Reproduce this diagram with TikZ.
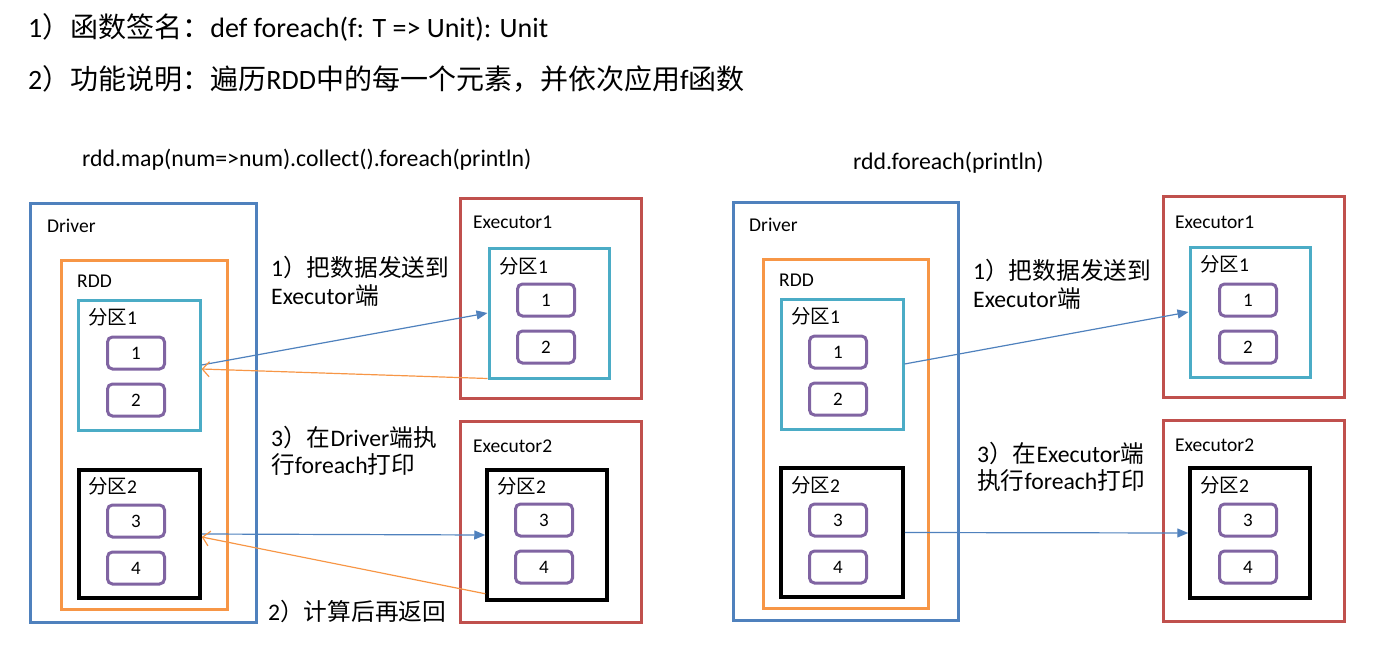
\documentclass[tikz,border=0pt]{standalone}
\usepackage{fontspec}
\setmainfont{Carlito}
\newfontfamily\cjk{Noto Sans CJK SC}
\usetikzlibrary{fit,arrows.meta}
\definecolor{cblue}{RGB}{79,129,189}
\definecolor{corange}{RGB}{247,150,70}
\definecolor{ccyan}{RGB}{75,172,198}
\definecolor{cred}{RGB}{192,80,77}
\definecolor{cpurple}{RGB}{128,100,162}
\tikzset{
  box/.style={draw,inner sep=0pt,line width=3pt},
  drvbox/.style={box,draw=cblue},
  rddbox/.style={box,draw=corange},
  pabox/.style={box,draw=ccyan},
  pbbox/.style={box,draw=black,line width=3.5pt},
  exbox/.style={box,draw=cred},
  elem/.style={draw=cpurple,line width=3pt,rounded corners=5pt,minimum width=57pt,minimum height=32pt,inner sep=0pt,font=\fontsize{19}{21}\selectfont},
  lbl/.style={anchor=west,inner sep=0pt,font=\fontsize{19.5}{21}\selectfont},
  note/.style={anchor=west,inner sep=0pt,font=\fontsize{23.7}{26}\selectfont},
  title/.style={anchor=west,inner sep=0pt,font=\fontsize{28}{30}\selectfont},
  code/.style={anchor=west,inner sep=0pt,font=\fontsize{23.8}{26}\selectfont},
  barrow/.style={draw=cblue,line width=1.2pt,-{Triangle[length=11pt,width=9pt]}},
  oarrow/.style={draw=corange,line width=1.2pt,-{Straight Barb[length=7pt,width=15pt]}},
}
\begin{document}
\begin{tikzpicture}[x=1pt,y=-1pt]
\useasboundingbox (0,0) rectangle (1374,664);
% titles
\node[title] (t1) at (28,27) {1{\cjk）函数签名：}def foreach(f: T => Unit): Unit};
\node[title] (t2) at (28,79) {2{\cjk）功能说明：遍历}RDD{\cjk 中的每一个元素，并依次应用}f{\cjk 函数}};
% ---------- left ----------
\node[code] (c1) at (82,160) {rdd.map(num=>num).collect().foreach(println)};
\node[drvbox,fit={(30,203)(256,622)}] (ld) {};
\node[lbl] at (47,226) {Driver};
\node[rddbox,fit={(61,260)(227,609)}] (lr) {};
\node[lbl] at (77,281) {RDD};
\node[pabox,fit={(78,300)(200,430)}] (lp1) {};
\node[lbl] at (88,317) {{\cjk 分区}1};
\node[elem] (l1) at (136,353) {1};
\node[elem] (l2) at (136,400) {2};
\node[pbbox,fit={(79,470)(200,598)}] (lp2) {};
\node[lbl] at (88,486) {{\cjk 分区}2};
\node[elem] (l3) at (136,521) {3};
\node[elem] (l4) at (136,568) {4};
\node[exbox,fit={(460,198)(641,398)}] (le1) {};
\node[lbl] at (473,222) {Executor1};
\node[pabox,fit={(489,248)(609,378)}] (lep1) {};
\node[lbl] at (499,266) {{\cjk 分区}1};
\node[elem] (le11) at (546,300) {1};
\node[elem] (le12) at (546,347) {2};
\node[exbox,fit={(460,421)(641,622)}] (le2) {};
\node[lbl] at (473,446) {Executor2};
\node[pbbox,fit={(487,470)(607,600)}] (lep2) {};
\node[lbl] at (497,486) {{\cjk 分区}2};
\node[elem] (le23) at (544,520) {3};
\node[elem] (le24) at (544,567) {4};
\node[note] (ln1) at (271,267) {1{\cjk）把数据发送到}};
\node[note] (ln1b) at (271,296) {Executor{\cjk 端}};
\node[note] (ln3) at (271,437) {3{\cjk）在}Driver{\cjk 端执}};
\node[note] (ln3b) at (271,465) {{\cjk 行}foreach{\cjk 打印}};
\node[note] (ln2) at (268,611) {2{\cjk）计算后再返回}};
\draw[barrow] (lp1.east) -- (lep1.west);
\draw[oarrow] ([yshift=1pt]lep1.south west) -- ([yshift=-4pt]lp1.east);
\draw[barrow] (lp2.east) -- (lep2.west);
\draw[oarrow] ([yshift=8pt]lep2.south west) -- ([yshift=-3pt]lp2.east);
% ---------- right ----------
\node[code] (c2) at (853,163) {rdd.foreach(println)};
\node[drvbox,fit={(733,202)(958,620)}] (rd) {};
\node[lbl] at (749,225) {Driver};
\node[rddbox,fit={(763,259)(928,608)}] (rr) {};
\node[lbl] at (779,280) {RDD};
\node[pabox,fit={(781,299)(903,429)}] (rp1) {};
\node[lbl] at (791,316) {{\cjk 分区}1};
\node[elem] (r1) at (838,352) {1};
\node[elem] (r2) at (838,399) {2};
\node[pbbox,fit={(781,468)(903,597)}] (rp2) {};
\node[lbl] at (791,485) {{\cjk 分区}2};
\node[elem] (r3) at (838,520) {3};
\node[elem] (r4) at (838,567) {4};
\node[exbox,fit={(1163,196)(1344,397)}] (re1) {};
\node[lbl] at (1175,222) {Executor1};
\node[pabox,fit={(1190,247)(1310,377)}] (rep1) {};
\node[lbl] at (1200,264) {{\cjk 分区}1};
\node[elem] (re11) at (1248,300) {1};
\node[elem] (re12) at (1248,347) {2};
\node[exbox,fit={(1163,420)(1344,621)}] (re2) {};
\node[lbl] at (1175,445) {Executor2};
\node[pbbox,fit={(1190,468)(1310,598)}] (rep2) {};
\node[lbl] at (1200,485) {{\cjk 分区}2};
\node[elem] (re23) at (1248,520) {3};
\node[elem] (re24) at (1248,567) {4};
\node[note] (rn1) at (973,270) {1{\cjk）把数据发送到}};
\node[note] (rn1b) at (973,299) {Executor{\cjk 端}};
\node[note] (rn3) at (977,453) {3{\cjk）在}Executor{\cjk 端}};
\node[note] (rn3b) at (977,481) {{\cjk 执行}foreach{\cjk 打印}};
\draw[barrow] (rp1.east) -- (rep1.west);
\draw[barrow] (rp2.east) -- (rep2.west);
\end{tikzpicture}
\end{document}
